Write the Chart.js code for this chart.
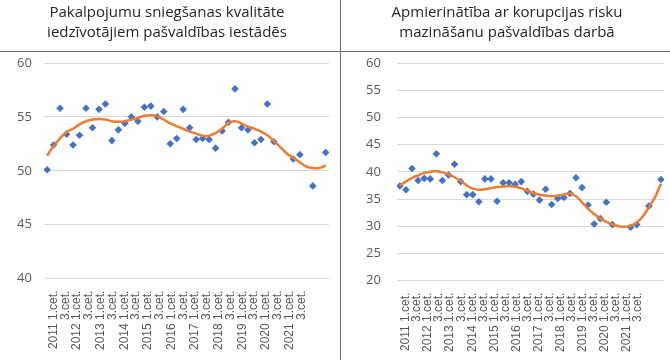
<!DOCTYPE html>
<html>
<head>
<meta charset="utf-8">
<script src="https://cdn.jsdelivr.net/npm/chart.js@4.4.1/dist/chart.umd.min.js"></script>
<style>
    body { margin: 0; background: #fff; }
    #wrap { position: relative; width: 670px; height: 360px; overflow: hidden; }
    #c1 { position: absolute; left: 0; top: 0; }
    #c2 { position: absolute; left: 341px; top: 0; }
    .hline { position: absolute; left: 0; top: 51px; width: 670px; height: 1px; background: #6e6e6e; }
    .vline { position: absolute; left: 340px; top: 0; width: 1px; height: 360px; background: #6e6e6e; }
</style>
</head>
<body>
<div id="wrap">
    <canvas id="c1" width="339" height="360"></canvas>
    <canvas id="c2" width="329" height="360"></canvas>
    <div class="hline"></div>
    <div class="vline"></div>
</div>
<script>
// ceturkšņi 2011 1.cet. ... 2021 4.cet. (44), etiķetes katram otrajam
const tickLabels = [
    '2011 1.cet.', '3.cet.', '2012 1.cet.', '3.cet.', '2013 1.cet.', '3.cet.',
    '2014 1.cet.', '3.cet.', '2015 1.cet.', '3.cet.', '2016 1.cet.', '3.cet.',
    '2017 1.cet.', '3.cet.', '2018 1.cet.', '3.cet.', '2019 1.cet.', '3.cet.',
    '2020 1.cet.', '3.cet.', '2021 1.cet.', '3.cet.'
];

const qualityValues = [
    50.1, 52.4, 55.8, 53.4, 52.4, 53.3, 55.8, 54.0, 55.7, 56.2,
    52.8, 53.8, 54.4, 55.0, 54.6, 55.9, 56.0, 55.0, 55.5, 52.5,
    53.0, 55.7, 54.0, 52.9, 53.0, 52.9, 52.1, 53.7, 54.5, 57.6,
    54.0, 53.8, 52.6, 52.9, 56.2, 52.7, null, null, 51.1, 51.5,
    null, 48.6, null, 51.7
];
const qualityTrend = [
    51.4, 52.3, 53.0, 53.6, 53.9, 54.3, 54.6, 54.75, 54.8, 54.75,
    54.6, 54.55, 54.6, 54.75, 54.9, 55.1, 55.15, 55.05, 54.75, 54.4,
    54.15, 53.9, 53.65, 53.45, 53.25, 53.25, 53.5, 53.9, 54.45, 54.6,
    54.4, 54.1, 53.9, 53.65, 53.3, 52.75, 52.2, 51.6, 51.2, 50.8,
    50.4, 50.25, 50.25, 50.5
];

const corruptionValues = [
    37.4, 36.7, 40.6, 38.4, 38.8, 38.7, 43.3, 38.4, 39.4, 41.4,
    38.2, 35.8, 35.8, 34.5, 38.7, 38.7, 34.6, 38.0, 38.0, 37.7,
    38.2, 36.4, 35.9, 34.8, 36.8, 34.0, 35.1, 35.3, 36.0, 38.9,
    37.1, 33.9, 30.4, 31.4, 34.4, 30.3, null, null, 29.8, 30.3,
    null, 33.7, null, 38.6
];
const corruptionTrend = [
    37.5, 38.2, 38.85, 39.35, 39.8, 40.0, 40.1, 39.9, 39.5, 39.0,
    38.3, 37.5, 36.9, 36.7, 36.8, 37.0, 37.2, 37.3, 37.4, 37.25,
    36.95, 36.5, 36.1, 35.8, 35.65, 35.5, 35.65, 35.8, 36.0, 35.5,
    34.4, 33.2, 32.25, 31.45, 30.8, 30.35, 30.0, 29.9, 30.1, 30.7,
    31.8, 33.5, 35.3, 37.8
];

// etiķešu novietojums uz kategoriju ass
const LABEL_START = 1.0;
const LABEL_STEP = 1.82;

function toPoints(arr) {
    return arr.map((v, i) => ({ x: i, y: v }));
}

function grafiks(canvasId, title, values, trend, yMin, padding, tickPad) {
    const ctx = document.getElementById(canvasId).getContext('2d');

    const config = {
        type: 'scatter',
        data: {
            datasets: [{
                type: 'line',
                data: toPoints(trend),
                borderColor: '#ED7D31',
                borderWidth: 2.5,
                pointRadius: 0,
                tension: 0.4,
                fill: false
            }, {
                data: toPoints(values),
                backgroundColor: '#4472C4',
                borderColor: '#4472C4',
                borderWidth: 0,
                pointStyle: 'rectRot',
                pointRadius: 3.8
            }]
        },
        options: {
            responsive: false,
            animation: false,
            layout: { padding: padding },
            plugins: {
                legend: { display: false },
                tooltip: { enabled: false },
                title: {
                    display: true,
                    text: title,
                    color: '#262626',
                    font: { family: 'Open Sans', size: 15, weight: 'normal', lineHeight: 1.3 },
                    padding: { top: 3, bottom: 21 }
                }
            },
            scales: {
                x: {
                    type: 'linear',
                    min: -0.5,
                    max: 43.5,
                    grid: { display: false },
                    border: { display: false },
                    afterBuildTicks: function (scale) {
                        scale.ticks = tickLabels.map((t, i) => ({ value: LABEL_START + i * LABEL_STEP }));
                    },
                    ticks: {
                        autoSkip: false,
                        minRotation: 90,
                        maxRotation: 90,
                        padding: 4,
                        color: '#595959',
                        font: { family: 'Arial', size: 12 },
                        callback: function (value, index) {
                            return tickLabels[index];
                        }
                    }
                },
                y: {
                    min: yMin,
                    max: 60,
                    grid: { color: '#d9d9d9', drawTicks: false },
                    border: { display: false },
                    ticks: {
                        stepSize: 5,
                        padding: tickPad,
                        color: '#595959',
                        font: { family: 'Open Sans', size: 13 }
                    }
                }
            }
        }
    };

    new Chart(ctx, config);
}

grafiks('c1', ['Pakalpojumu sniegšanas kvalitāte', 'iedzīvotājiem pašvaldības iestādēs'],
    qualityValues, qualityTrend, 40, { left: 5, right: 10, bottom: 6 }, 12);
grafiks('c2', ['Apmierinātība ar korupcijas risku', 'mazināšanu pašvaldības darbā'],
    corruptionValues, corruptionTrend, 20, { left: 9, right: 6, bottom: 4 }, 16);
</script>
</body>
</html>
